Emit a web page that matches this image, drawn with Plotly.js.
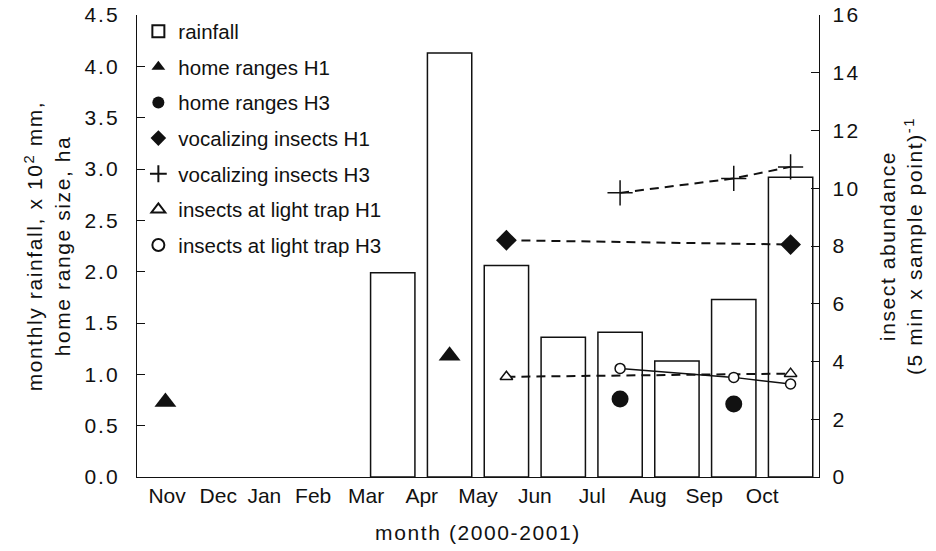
<!DOCTYPE html>
<html>
<head>
<meta charset="utf-8">
<script src="https://cdn.plot.ly/plotly-3.0.1.min.js"></script>
<style>
html,body{margin:0;padding:0;background:#fff;}
#chart{width:936px;height:551px;}
#chart g.ytick text{letter-spacing:2px;}
#chart g.y2tick text{letter-spacing:2.5px;}
#chart text.xtitle, #chart text.ytitle, #chart text.y2title{letter-spacing:1.6px;}
</style>
</head>
<body>
<div id="chart"></div>
<script>
// ---- data ----
var months = ['Nov','Dec','Jan','Feb','Mar','Apr','May','Jun','Jul','Aug','Sep','Oct'];
var rainfall = [null,null,null,null,1.99,4.13,2.06,1.36,1.41,1.13,1.73,2.92];       // x 10^2 mm
var homeRangeH1 = [0.73,null,null,null,null,1.18,null,null,null,null,null,null];  // ha
var homeRangeH3 = [null,null,null,null,null,null,null,null,0.76,null,0.71,null];   // ha
var vocalH1 = [null,null,null,null,null,null,8.20,null,null,null,null,8.05];
var vocalH3 = [null,null,null,null,null,null,null,null,9.84,null,10.34,10.74];
var lightH1 = [null,null,null,null,null,null,3.47,null,null,null,null,3.58];
var lightH3 = [null,null,null,null,null,null,null,null,3.76,null,3.45,3.22];
var leftTicks = [0,0.5,1,1.5,2,2.5,3,3.5,4,4.5];
var leftTickText = ['0.0','0.5','1.0','1.5','2.0','2.5','3.0','3.5','4.0','4.5'];
var rightTicks = [0,2,4,6,8,10,12,14,16];

// ---- layout helpers (label placement as in original) ----
var labelShift = [0.03,-0.07,-0.26,-0.40,-0.47,-0.49,-0.5,-0.5,-0.49,-0.51,-0.52,-0.5];
var xIdx = months.map(function(m,i){return i;});
var tickPos = xIdx.map(function(i){return i + labelShift[i];});

var FONT = 'Liberation Sans, Arial, Helvetica, sans-serif';
var traces = [];
var gi = 0;
function grp(){ gi++; return 'g'+gi; }
var DASH = '9px,6px';

traces.push({type:'bar', x:xIdx, y:rainfall, name:'rainfall', width:0.78,
  marker:{color:'#ffffff', line:{color:'#111', width:1.5}}, legendgroup:grp(), yaxis:'y'});

// connecting lines (no legend entries)
traces.push({type:'scatter', mode:'lines', x:xIdx, y:vocalH1, yaxis:'y2', connectgaps:true, showlegend:false,
  line:{color:'#111', width:2, dash:DASH}, hoverinfo:'skip'});
traces.push({type:'scatter', mode:'lines', x:xIdx, y:vocalH3, yaxis:'y2', connectgaps:true, showlegend:false,
  line:{color:'#111', width:2, dash:DASH}, hoverinfo:'skip'});
traces.push({type:'scatter', mode:'lines', x:xIdx, y:lightH1, yaxis:'y2', connectgaps:true, showlegend:false,
  line:{color:'#111', width:2, dash:DASH}, hoverinfo:'skip'});
traces.push({type:'scatter', mode:'lines', x:xIdx, y:lightH3, yaxis:'y2', connectgaps:true, showlegend:false,
  line:{color:'#111', width:1.5}, hoverinfo:'skip'});

// markers
traces.push({type:'scatter', mode:'markers', x:xIdx, y:homeRangeH1, name:'home ranges H1', yaxis:'y', legendgroup:grp(),
  marker:{symbol:'triangle-up', size:19, color:'#111'}});
traces.push({type:'scatter', mode:'markers', x:xIdx, y:homeRangeH3, name:'home ranges H3', yaxis:'y', legendgroup:grp(),
  marker:{symbol:'circle', size:17, color:'#111'}});
traces.push({type:'scatter', mode:'markers', x:xIdx, y:vocalH1, name:'vocalizing insects H1', yaxis:'y2', legendgroup:grp(),
  marker:{symbol:'diamond', size:16, color:'#111'}});
traces.push({type:'scatter', mode:'markers', x:xIdx, y:vocalH3, name:'vocalizing insects H3', yaxis:'y2', legendgroup:grp(),
  marker:{symbol:'cross-thin', size:18, color:'#111', line:{color:'#111', width:1.5}}});
traces.push({type:'scatter', mode:'markers', x:xIdx, y:lightH1, name:'insects at light trap H1', yaxis:'y2', legendgroup:grp(),
  marker:{symbol:'triangle-up', size:11, color:'#fff', line:{color:'#111', width:1.5}}});
traces.push({type:'scatter', mode:'markers', x:xIdx, y:lightH3, name:'insects at light trap H3', yaxis:'y2', legendgroup:grp(),
  marker:{symbol:'circle', size:10, color:'#fff', line:{color:'#111', width:1.5}}});

var layout = {
  width:936, height:551,
  margin:{l:137, r:117, t:15, b:74, autoexpand:false},
  paper_bgcolor:'#fff', plot_bgcolor:'#fff',
  font:{family:FONT, size:21, color:'#111'},
  showlegend:true,
  xaxis:{range:[-0.5,11.5], tickvals:tickPos, ticktext:months, ticks:'', showgrid:false, zeroline:false,
    showline:true, linecolor:'#111', linewidth:1.2, tickfont:{size:21}, fixedrange:true,
    title:{text:'month (2000-2001)', font:{size:21}, standoff:18}},
  yaxis:{range:[0,4.5], tickvals:leftTicks, ticktext:leftTickText, ticks:'inside', ticklen:8, tickcolor:'#111',
    showgrid:false, zeroline:false, showline:true, linecolor:'#111', linewidth:1.2, tickfont:{size:21},
    ticklabelstandoff:12,
    title:{text:'monthly rainfall, x 10<sup>2</sup> mm,<br>home range size, ha', font:{size:21}, standoff:14}},
  yaxis2:{range:[0,16], overlaying:'y', side:'right', tickvals:rightTicks, ticks:'inside', ticklen:8, tickcolor:'#111',
    showgrid:false, zeroline:false, showline:true, linecolor:'#111', linewidth:1.2, tickfont:{size:21},
    ticklabelstandoff:8,
    title:{text:'insect abundance<br>(5 min x sample point)<sup>-1</sup>', font:{size:21}, standoff:25}},
  legend:{x:0.002, y:1.008, xanchor:'left', yanchor:'top', bgcolor:'rgba(0,0,0,0)', borderwidth:0,
    traceorder:'grouped', tracegroupgap:6, font:{size:20.5}, itemsizing:'constant'}
};

Plotly.newPlot('chart', traces, layout, {staticPlot:true});
</script>
</body>
</html>
